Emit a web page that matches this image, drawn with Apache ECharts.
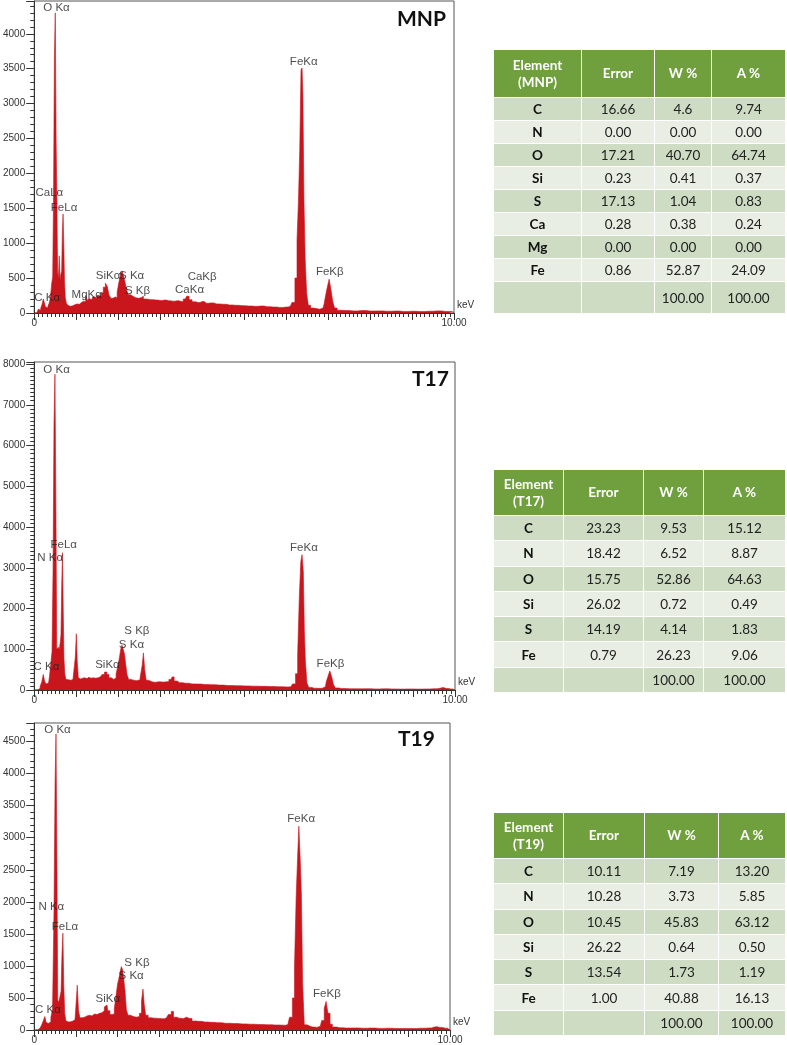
<!DOCTYPE html>
<html>
<head>
<meta charset="utf-8">
<script src="https://cdn.jsdelivr.net/npm/echarts@6/dist/echarts.min.js"></script>
<style>
html,body{margin:0;padding:0;background:#fff;}
#chart{position:absolute;left:0;top:0;width:787px;height:1045px;}
.tbl{position:absolute;border-collapse:collapse;table-layout:fixed;font-family:Lato,'Open Sans',sans-serif;font-size:13.5px;color:#222;}
.tbl td{border:1px solid #fff;text-align:center;vertical-align:middle;padding:0;box-sizing:border-box;}
.tbl tr.hd td{background:#70a03e;color:#fff;font-weight:bold;line-height:17px;}
.tbl tr.odd td{background:#cfdcc4;}
.tbl tr.even td{background:#e8eee3;}
.tbl td.el{font-weight:bold;color:#111;}
</style>
</head>
<body>
<div id="chart"></div>
<script>
// ---------------- DATA ----------------
const xTickLabels = ['0', '10.00'];

// Spectrum readings [keV, counts]
const mnpSpectrum = [
[0.00,0],[0.06,0],[0.08,25],[0.11,55],[0.14,40],[0.17,70],[0.20,120],[0.23,200],[0.25,150],[0.28,90],[0.31,70],[0.34,100],[0.37,140],[0.40,220],[0.43,420],[0.45,520],
[0.47,1700],[0.49,3650],[0.512,4300],[0.53,2480],[0.548,1650],[0.565,600],[0.585,480],[0.605,820],[0.625,470],[0.645,560],[0.662,600],[0.678,1150],[0.695,1420],[0.712,1000],[0.73,450],[0.75,220],[0.78,140],
[0.82,110],[0.86,95],[0.90,105],[0.95,120],[1.00,130],[1.05,125],[1.10,150],[1.15,170],[1.20,160],[1.25,250],[1.28,180],[1.32,210],[1.37,190],[1.42,230],[1.47,210],[1.52,250],[1.57,240],
[1.62,290],[1.67,370],[1.72,430],[1.76,380],[1.80,260],[1.85,210],[1.90,230],[1.95,220],[2.00,300],[2.04,450],[2.08,560],[2.11,600],[2.14,530],[2.18,450],[2.22,330],[2.27,260],[2.32,240],
[2.38,220],[2.45,210],[2.52,220],[2.58,240],[2.62,200],[2.70,195],[2.80,190],[2.90,185],[3.00,180],[3.10,185],[3.20,175],[3.30,170],[3.40,175],[3.50,165],[3.60,200],[3.66,240],[3.72,190],
[3.80,160],[3.90,150],[4.00,165],[4.10,140],[4.20,145],[4.35,130],[4.50,125],[4.65,115],[4.80,110],[4.95,105],[5.10,100],[5.25,95],[5.40,100],[5.55,90],[5.70,85],[5.85,80],[6.00,85],[6.10,95],
[6.18,150],[6.24,500],[6.28,1050],[6.31,1620],[6.34,2340],[6.37,3480],[6.39,3510],[6.41,3130],[6.44,1620],[6.47,760],[6.51,280],[6.55,110],[6.62,70],[6.70,60],[6.80,55],[6.88,70],
[6.93,130],[6.97,280],[7.00,380],[7.05,485],[7.09,330],[7.13,170],[7.18,70],[7.25,40],[7.40,35],[7.60,30],[7.80,35],[8.00,28],[8.20,30],[8.40,25],[8.60,28],[8.80,22],[9.00,25],[9.20,20],
[9.40,25],[9.60,30],[9.80,22],[9.97,20],[10.00,0]
];
const t17Spectrum = [
[0.00,0],[0.08,0],[0.12,40],[0.16,90],[0.20,200],[0.23,380],[0.26,220],[0.30,150],[0.34,170],[0.38,320],[0.41,650],[0.435,950],[0.458,2920],[0.48,6500],[0.505,7750],[0.525,4450],
[0.545,1000],[0.565,980],[0.585,1050],[0.605,990],[0.625,1150],[0.645,1350],[0.662,2590],[0.68,3370],[0.697,2000],[0.715,780],[0.74,380],[0.77,260],[0.82,250],[0.87,240],[0.92,260],
[0.96,300],[0.99,800],[1.01,1380],[1.035,700],[1.06,300],[1.10,270],[1.15,290],[1.20,300],[1.25,280],[1.30,310],[1.35,290],[1.40,300],[1.46,290],[1.52,300],[1.58,330],[1.64,380],
[1.70,440],[1.75,380],[1.80,300],[1.86,260],[1.92,300],[1.97,400],[2.01,600],[2.04,800],[2.07,1000],[2.10,1100],[2.13,1000],[2.16,880],[2.19,620],[2.22,380],[2.27,260],[2.33,240],
[2.40,230],[2.48,250],[2.55,300],[2.58,600],[2.61,910],[2.64,500],[2.68,240],[2.75,200],[2.85,190],[2.95,200],[3.05,195],[3.15,205],[3.25,260],[3.30,320],[3.35,220],[3.45,180],
[3.60,165],[3.75,150],[3.90,145],[4.05,135],[4.20,130],[4.40,120],[4.60,110],[4.80,105],[5.00,100],[5.20,95],[5.40,90],[5.60,85],[5.80,80],[6.00,75],[6.10,80],[6.18,150],[6.24,400],
[6.28,860],[6.32,2290],[6.35,3150],[6.38,3320],[6.41,2900],[6.43,1430],[6.46,700],[6.50,180],[6.55,60],[6.65,45],[6.75,40],[6.85,45],[6.92,80],[6.96,200],[7.00,330],[7.05,470],
[7.09,320],[7.13,140],[7.18,50],[7.30,35],[7.50,30],[7.70,28],[7.90,30],[8.10,25],[8.30,28],[8.50,25],[8.70,22],[8.90,25],[9.10,22],[9.30,25],[9.50,30],[9.65,45],[9.72,60],[9.80,35],
[9.90,25],[10.00,0]
];
const t19Spectrum = [
[0.00,0],[0.08,0],[0.12,30],[0.16,60],[0.20,80],[0.24,150],[0.27,210],[0.30,120],[0.34,100],[0.38,130],[0.42,200],[0.46,320],[0.49,1850],[0.512,3850],[0.535,4620],[0.555,2660],
[0.575,470],[0.595,430],[0.615,480],[0.635,450],[0.655,600],[0.678,1170],[0.70,1510],[0.72,700],[0.745,260],[0.78,140],[0.83,125],[0.88,130],[0.93,140],[0.98,160],[1.02,350],[1.05,700],
[1.08,300],[1.12,190],[1.18,200],[1.24,220],[1.30,230],[1.36,220],[1.42,250],[1.48,240],[1.54,260],[1.60,270],[1.66,300],[1.71,360],[1.75,390],[1.79,300],[1.85,240],[1.90,250],
[1.95,330],[1.99,550],[2.02,720],[2.05,800],[2.08,900],[2.11,990],[2.14,940],[2.17,780],[2.20,600],[2.23,320],[2.28,230],[2.35,210],[2.42,200],[2.50,210],[2.56,260],[2.60,450],
[2.63,640],[2.66,400],[2.70,230],[2.78,190],[2.88,185],[2.98,180],[3.08,175],[3.18,190],[3.27,240],[3.32,290],[3.38,200],[3.48,185],[3.58,175],[3.66,200],[3.74,180],[3.85,140],
[3.95,135],[4.10,125],[4.25,120],[4.40,115],[4.60,105],[4.80,100],[5.00,95],[5.20,90],[5.40,85],[5.60,82],[5.80,78],[6.00,75],[6.10,85],[6.18,200],[6.24,500],[6.28,990],[6.32,2080],
[6.35,2710],[6.38,3180],[6.41,2700],[6.44,2130],[6.47,730],[6.52,80],[6.60,55],[6.70,45],[6.80,40],[6.88,60],[6.95,150],[7.00,340],[7.04,445],[7.09,260],[7.14,90],[7.20,45],
[7.35,35],[7.50,30],[7.70,32],[7.90,28],[8.10,30],[8.30,25],[8.50,28],[8.70,22],[8.90,25],[9.10,22],[9.30,28],[9.50,32],[9.62,45],[9.68,52],[9.76,40],[9.88,28],[10.00,0]
];

// Peak labels: [text, keV, counts]
const mnpPeakLabels = [
['O Kα',0.53,4373],['CaLα',0.36,1720],['FeLα',0.71,1505],['C Kα',0.31,215],['MgKα',1.25,258],['SiKα',1.76,530],['S Kα',2.32,530],['S Kβ',2.46,315],
['CaKβ',4.0,516],['CaKα',3.70,330],['FeKα',6.42,3599],['FeKβ',7.04,588]
];
const t17PeakLabels = [
['O Kα',0.53,7862],['FeLα',0.70,3563],['N Kα',0.38,3235],['C Kα',0.29,573],['SiKα',1.74,614],['S Kβ',2.44,1450],['S Kα',2.31,1106],['FeKα',6.41,3497],['FeKβ',7.04,639]
];
const t19PeakLabels = [
['O Kα',0.56,4683],['N Kα',0.41,1915],['FeLα',0.74,1613],['C Kα',0.33,312],['SiKα',1.77,494],['S Kβ',2.47,1041],['S Kα',2.33,843],['FeKα',6.42,3288],['FeKβ',7.04,562]
];

// Y axis ranges
const yMax = [4470, 8050, 4790];
const yInterval = [500, 1000, 500];
const yMinorSplit = [5, 10, 5];
const sampleNames = ['MNP', 'T17', 'T19'];

// Tables
const mnpElements = ['C','N','O','Si','S','Ca','Mg','Fe'];
const mnpError = ['16.66','0.00','17.21','0.23','17.13','0.28','0.00','0.86'];
const mnpW = ['4.6','0.00','40.70','0.41','1.04','0.38','0.00','52.87'];
const mnpA = ['9.74','0.00','64.74','0.37','0.83','0.24','0.00','24.09'];
const mnpTotal = ['100.00','100.00'];

const t17Elements = ['C','N','O','Si','S','Fe'];
const t17Error = ['23.23','18.42','15.75','26.02','14.19','0.79'];
const t17W = ['9.53','6.52','52.86','0.72','4.14','26.23'];
const t17A = ['15.12','8.87','64.63','0.49','1.83','9.06'];
const t17Total = ['100.00','100.00'];

const t19Elements = ['C','N','O','Si','S','Fe'];
const t19Error = ['10.11','10.28','10.45','26.22','13.54','1.00'];
const t19W = ['7.19','3.73','45.83','0.64','1.73','40.88'];
const t19A = ['13.20','5.85','63.12','0.50','1.19','16.13'];
const t19Total = ['100.00','100.00'];

// ---------------- LAYOUT ----------------
const RED = '#c9161d';
const AX = '#333';
const grids = [
  {left:32, top:1, width:422, height:312},
  {left:32, top:362, width:423, height:328},
  {left:33, top:723, width:417, height:307}
];
const titlePos = [{left:397, top:9}, {left:412, top:369}, {left:398, top:729}];
const tableLayouts = [
  {left:493, top:49, colW:[88,73,57,74], headH:48, rowH:23, totalH:32},
  {left:493, top:469, colW:[70,80,60,82], headH:46, rowH:25.3, totalH:25.3},
  {left:493, top:812, colW:[70,81,74,67], headH:46, rowH:25.3, totalH:25.3}
];

const spectra = [mnpSpectrum, t17Spectrum, t19Spectrum];
const peakLabels = [mnpPeakLabels, t17PeakLabels, t19PeakLabels];

const chart = echarts.init(document.getElementById('chart'), null, {renderer:'canvas'});
const xAxes = [], yAxes = [], series = [], titles = [];
grids.forEach((g, i) => {
  xAxes.push({
    gridIndex:i, type:'value', min:0, max:10, interval:1,
    axisLine:{show:true, onZero:false, lineStyle:{color:AX, width:1}},
    axisTick:{show:true, length:7, lineStyle:{color:AX}},
    minorTick:{show:true, splitNumber:10, length:4, lineStyle:{color:AX}},
    splitLine:{show:false}, minorSplitLine:{show:false},
    axisLabel:{fontSize:10, color:'#333', margin:5, fontFamily:'Liberation Sans',
      formatter:(v)=> v===0 ? xTickLabels[0] : (v===10 ? xTickLabels[1] : '')},
    name:'keV', nameLocation:'end', nameGap:3,
    nameTextStyle:{fontSize:10, color:'#333', fontFamily:'Liberation Sans', verticalAlign:'bottom', padding:[0,0,3,0]}
  });
  yAxes.push({
    gridIndex:i, type:'value', min:0, max:yMax[i], interval:yInterval[i],
    axisLine:{show:true, lineStyle:{color:AX, width:1}},
    axisTick:{show:true, length:8, lineStyle:{color:AX}},
    minorTick:{show:true, splitNumber:yMinorSplit[i], length:4, lineStyle:{color:AX}},
    splitLine:{show:false}, minorSplitLine:{show:false},
    axisLabel:{fontSize:10, color:'#333', margin:9, fontFamily:'Liberation Sans', showMaxLabel:false,
      formatter:(v)=> (v % yInterval[i] === 0) ? String(v) : ''}
  });
  series.push({
    type:'line', xAxisIndex:i, yAxisIndex:i, data:spectra[i], step:'middle',
    symbol:'none', silent:true, z:2,
    lineStyle:{color:RED, width:0.6}, areaStyle:{color:RED, opacity:1}
  });
  series.push({
    type:'scatter', xAxisIndex:i, yAxisIndex:i, symbolSize:1, silent:true, z:5,
    itemStyle:{color:'rgba(0,0,0,0)'},
    data: peakLabels[i].map(p => ({name:p[0], value:[p[1], p[2]]})),
    label:{show:true, position:'inside', formatter:'{b}', fontSize:11.5, color:'#222', fontFamily:'Liberation Sans'}
  });
  titles.push({
    text: sampleNames[i], left:titlePos[i].left, top:titlePos[i].top, padding:0,
    textStyle:{fontFamily:'Lato', fontWeight:'bold', fontSize:21, color:'#111'}
  });
});

chart.setOption({
  animation:false,
  backgroundColor:'#fff',
  title: titles,
  grid: grids.map(g => Object.assign({show:true, borderColor:'#555', borderWidth:1, backgroundColor:'transparent'}, g)),
  xAxis: xAxes,
  yAxis: yAxes,
  series: series
});

// ---------------- TABLES ----------------
function buildTable(lay, name, els, err, w, a, tot) {
  const t = document.createElement('table');
  t.className = 'tbl';
  const totalW = lay.colW.reduce((s, v) => s + v, 0);
  t.style.left = lay.left + 'px';
  t.style.top = lay.top + 'px';
  t.style.width = totalW + 'px';
  const cg = document.createElement('colgroup');
  lay.colW.forEach(cw => { const c = document.createElement('col'); c.style.width = cw + 'px'; cg.appendChild(c); });
  t.appendChild(cg);
  const addRow = (cls, cells, h, firstBold) => {
    const tr = document.createElement('tr');
    tr.className = cls;
    tr.style.height = h + 'px';
    cells.forEach((c, k) => {
      const td = document.createElement('td');
      td.innerHTML = c;
      td.style.height = h + 'px';
      if (k === 0 && firstBold) td.className = 'el';
      tr.appendChild(td);
    });
    t.appendChild(tr);
  };
  addRow('hd', ['Element<br>(' + name + ')', 'Error', 'W %', 'A %'], lay.headH, false);
  els.forEach((e, k) => addRow(k % 2 === 0 ? 'odd' : 'even', [e, err[k], w[k], a[k]], lay.rowH, true));
  addRow(els.length % 2 === 0 ? 'odd' : 'even', ['', '', tot[0], tot[1]], lay.totalH, false);
  document.body.appendChild(t);
}
buildTable(tableLayouts[0], 'MNP', mnpElements, mnpError, mnpW, mnpA, mnpTotal);
buildTable(tableLayouts[1], 'T17', t17Elements, t17Error, t17W, t17A, t17Total);
buildTable(tableLayouts[2], 'T19', t19Elements, t19Error, t19W, t19A, t19Total);
</script>
</body>
</html>
